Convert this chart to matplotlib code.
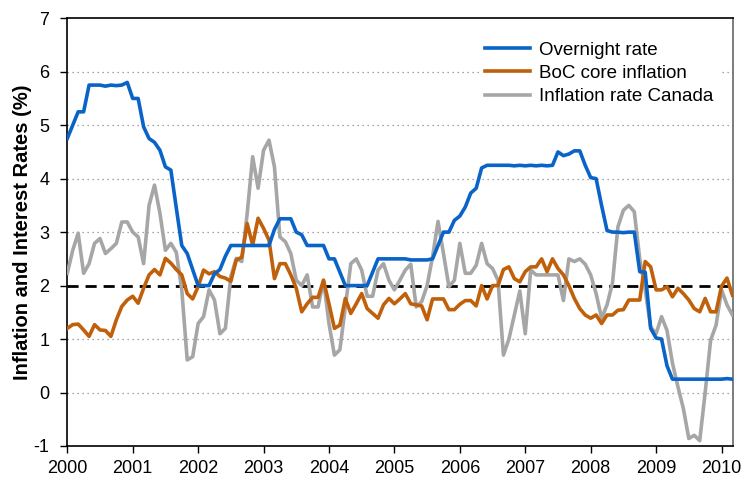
import matplotlib
matplotlib.use("Agg")
import matplotlib.pyplot as plt
import numpy as np
import pandas as pd

plt.rcParams['font.family'] = ['Liberation Sans', 'DejaVu Sans']

# Monthly data, Jan 2000 - Mar 2010
months = pd.date_range("2000-01-01", "2010-03-01", freq="MS")

overnight_rate = [
    4.75, 5.00, 5.25, 5.25, 5.75, 5.75, 5.75, 5.73, 5.75, 5.74, 5.75, 5.80,   # 2000
    5.50, 5.50, 4.97, 4.75, 4.68, 4.53, 4.22, 4.16, 3.45, 2.75, 2.60, 2.30,   # 2001
    2.00, 2.00, 2.00, 2.22, 2.30, 2.55, 2.75, 2.75, 2.75, 2.75, 2.75, 2.75,   # 2002
    2.75, 2.75, 3.05, 3.25, 3.25, 3.25, 3.00, 2.95, 2.75, 2.75, 2.75, 2.75,   # 2003
    2.50, 2.50, 2.25, 2.00, 2.00, 2.00, 2.00, 2.00, 2.25, 2.50, 2.50, 2.50,   # 2004
    2.50, 2.50, 2.50, 2.48, 2.48, 2.48, 2.48, 2.50, 2.75, 3.00, 3.00, 3.22,   # 2005
    3.30, 3.47, 3.73, 3.82, 4.20, 4.25, 4.25, 4.25, 4.25, 4.25, 4.24, 4.25,   # 2006
    4.24, 4.25, 4.24, 4.25, 4.24, 4.25, 4.50, 4.43, 4.46, 4.52, 4.52, 4.25,   # 2007
    4.02, 4.00, 3.50, 3.03, 3.00, 3.00, 2.99, 3.00, 3.00, 2.26, 2.25, 1.20,   # 2008
    1.02, 1.00, 0.50, 0.25, 0.25, 0.25, 0.25, 0.25, 0.25, 0.25, 0.25, 0.25,   # 2009
    0.25, 0.26, 0.25,                                                         # 2010
]

core_inflation = [
    1.20, 1.27, 1.28, 1.17, 1.05, 1.27, 1.17, 1.16, 1.05, 1.36, 1.61, 1.73,   # 2000
    1.80, 1.67, 1.95, 2.20, 2.30, 2.20, 2.51, 2.42, 2.30, 2.20, 1.85, 1.75,   # 2001
    1.98, 2.29, 2.22, 2.26, 2.17, 2.14, 2.08, 2.48, 2.53, 3.16, 2.76, 3.26,   # 2002
    3.07, 2.85, 2.13, 2.41, 2.41, 2.20, 1.95, 1.51, 1.66, 1.78, 1.78, 2.10,   # 2003
    1.66, 1.20, 1.26, 1.76, 1.48, 1.66, 1.85, 1.57, 1.48, 1.39, 1.64, 1.76,   # 2004
    1.66, 1.75, 1.85, 1.66, 1.64, 1.62, 1.36, 1.75, 1.75, 1.75, 1.55, 1.55,   # 2005
    1.65, 1.72, 1.72, 1.62, 2.00, 1.75, 2.00, 2.00, 2.30, 2.35, 2.13, 2.07,   # 2006
    2.26, 2.35, 2.35, 2.50, 2.26, 2.50, 2.32, 2.20, 2.00, 1.76, 1.57, 1.45,   # 2007
    1.39, 1.45, 1.29, 1.45, 1.45, 1.54, 1.55, 1.73, 1.73, 1.73, 2.45, 2.35,   # 2008
    1.92, 1.92, 1.98, 1.79, 1.95, 1.85, 1.73, 1.57, 1.51, 1.76, 1.51, 1.51,   # 2009
    1.99, 2.14, 1.82,                                                         # 2010
]

cpi_inflation = [
    2.23, 2.66, 2.98, 2.23, 2.41, 2.79, 2.88, 2.60, 2.69, 2.79, 3.19, 3.19,   # 2000
    3.00, 2.91, 2.41, 3.50, 3.88, 3.35, 2.66, 2.79, 2.62, 1.92, 0.61, 0.67,   # 2001
    1.29, 1.42, 1.92, 1.73, 1.10, 1.20, 2.17, 2.51, 2.45, 3.35, 4.41, 3.82,   # 2002
    4.53, 4.72, 4.22, 2.91, 2.82, 2.60, 2.10, 2.00, 2.20, 1.60, 1.60, 2.10,   # 2003
    1.29, 0.70, 0.80, 1.60, 2.41, 2.50, 2.29, 1.80, 1.80, 2.29, 2.41, 2.10,   # 2004
    1.92, 2.10, 2.29, 2.40, 1.60, 1.70, 2.00, 2.54, 3.20, 2.60, 1.98, 2.10,   # 2005
    2.79, 2.23, 2.23, 2.38, 2.79, 2.41, 2.32, 2.10, 0.70, 1.00, 1.45, 1.90,   # 2006
    1.10, 2.29, 2.20, 2.20, 2.20, 2.20, 2.20, 1.72, 2.50, 2.45, 2.50, 2.40,   # 2007
    2.20, 1.85, 1.39, 1.64, 2.05, 3.10, 3.41, 3.50, 3.38, 2.50, 1.92, 1.23,   # 2008
    1.10, 1.42, 1.16, 0.55, 0.11, -0.30, -0.86, -0.80, -0.90, 0.00, 0.98, 1.26,  # 2009
    1.92, 1.64, 1.45,                                                         # 2010
]

target = 2.0
y_ticks = [-1, 0, 1, 2, 3, 4, 5, 6, 7]
x_ticks = list(range(2000, 2011))

x = months.year + (months.month - 1) / 12.0

fig = plt.figure(figsize=(7.45, 4.79), dpi=100)
ax = fig.add_axes([0.0903, 0.0689, 0.894, 0.893])

for yv in [0, 1, 3, 4, 5, 6]:
    ax.axhline(yv, color="#888888", lw=0.9, ls=(0, (1, 3)), zorder=1)

ax.axhline(target, color="black", lw=2.0, ls=(0, (4, 2.5)), zorder=2)

ax.plot(x, overnight_rate, color="#0a64c8", lw=2.6, label="Overnight rate", zorder=5)
ax.plot(x, core_inflation, color="#c0600a", lw=2.6, label="BoC core inflation", zorder=4)
ax.plot(x, cpi_inflation, color="#a6a6a6", lw=2.6, label="Inflation rate Canada", zorder=3)

ax.set_xlim(2000, 2010.18)
ax.set_ylim(-1, 7)
ax.set_xticks(x_ticks)
ax.set_xticklabels([str(t) for t in x_ticks])
ax.set_yticks(y_ticks)
ax.set_yticklabels([str(t) for t in y_ticks])
ax.tick_params(axis="both", direction="out", length=5, width=1, labelsize=13, colors="black")
ax.tick_params(axis="x", pad=5)
ax.tick_params(axis="y", pad=8)

for s in ["left", "bottom", "top"]:
    ax.spines[s].set_color("black")
    ax.spines[s].set_linewidth(1.2)
ax.spines["right"].set_color("#666666")
ax.spines["right"].set_linewidth(1.2)

ax.set_ylabel("Inflation and Interest Rates (%)", fontsize=14.5, fontweight="bold", labelpad=1)

leg = ax.legend(loc="upper right", bbox_to_anchor=(0.993, 0.98), frameon=True, fontsize=13.5,
                handlelength=2.4, labelspacing=0.32, borderpad=0.3, handletextpad=0.5)
leg.get_frame().set_edgecolor("none")
leg.get_frame().set_facecolor("white")
leg.get_frame().set_alpha(1.0)
leg.set_zorder(10)

fig.savefig("out.png", dpi=100)
